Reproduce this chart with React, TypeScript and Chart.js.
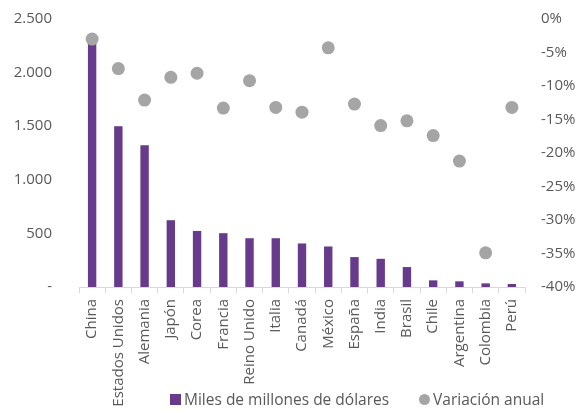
import React, { useEffect, useRef } from "react";
import { Chart, registerables } from "chart.js";

Chart.register(...registerables);

const categories = [
  "China", "Estados Unidos", "Alemania", "Japón", "Corea", "Francia", "Reino Unido",
  "Italia", "Canadá", "México", "España", "India", "Brasil", "Chile", "Argentina",
  "Colombia", "Perú",
];
const billionsUSD = [2270, 1500, 1323, 623, 523, 502, 455, 455, 406, 378, 279, 263, 186, 62, 53, 34, 28];
const annualChange = [-3.0, -7.4, -12.1, -8.7, -8.1, -13.3, -9.2, -13.2, -13.9, -4.3, -12.7, -15.9, -15.2, -17.4, -21.2, -34.9, -13.2];
const barLabel = "Miles de millones de dólares";
const pointLabel = "Variación anual";

const PURPLE = "#673A8B";
const GREY = "#A5A5A5";
const TEXT = "#595959";
const FONT = "'Open Sans', sans-serif";

export default function App() {
  const ref = useRef<HTMLCanvasElement | null>(null);

  useEffect(() => {
    if (!ref.current) return;
    const font = { family: "'Open Sans', sans-serif", size: 15 };
    const chart = new Chart(ref.current, {
      type: "bar",
      data: {
        labels: categories,
        datasets: [
          {
            type: "line",
            label: pointLabel,
            data: annualChange,
            yAxisID: "y1",
            showLine: false,
            pointRadius: 6.5,
            pointBackgroundColor: GREY,
            pointBorderColor: GREY,
            pointBorderWidth: 0,
            order: 0,
          },
          {
            type: "bar",
            label: barLabel,
            data: billionsUSD,
            yAxisID: "y",
            backgroundColor: PURPLE,
            barPercentage: 0.32,
            categoryPercentage: 1,
            order: 1,
          },
        ],
      },
      options: {
        animation: false,
        responsive: true,
        maintainAspectRatio: false,
        layout: { autoPadding: false, padding: { top: 19, left: 0, right: 0, bottom: 0 } },
        plugins: {
          legend: { display: false },
          tooltip: { enabled: false },
          title: { display: false },
        },
        scales: {
          x: {
            offset: true,
            grid: {
              offset: true,
              drawOnChartArea: false,
              drawTicks: true,
              tickLength: 6,
              color: "#D9D9D9",
            },
            border: { display: true, color: "#D9D9D9" },
            ticks: {
              color: TEXT,
              font,
              minRotation: 90,
              maxRotation: 90,
              autoSkip: false,
              padding: 6,
            },
            afterFit: (s: any) => {
              s.height = 125;
            },
          },
          y: {
            position: "left",
            min: 0,
            max: 2500,
            grid: { display: false, drawTicks: false },
            border: { display: false },
            ticks: {
              stepSize: 500,
              color: TEXT,
              font,
              padding: 27,
              callback: (v: any) => (Number(v) === 0 ? "-" : Number(v).toLocaleString("de-DE")),
            },
            afterFit: (s: any) => {
              s.width = 79;
              s.paddingTop = 0;
              s.paddingBottom = 0;
            },
          },
          y1: {
            position: "right",
            min: -40,
            max: 0,
            grid: { display: false, drawTicks: false },
            border: { display: false },
            ticks: {
              stepSize: 5,
              color: TEXT,
              font,
              padding: 16,
              callback: (v: any) => `${v}%`,
            },
            afterFit: (s: any) => {
              s.width = 54;
              s.paddingTop = 0;
              s.paddingBottom = 0;
            },
          },
        },
      },
    });
    return () => chart.destroy();
  }, []);

  return (
    <div style={{ position: "absolute", left: 0, top: 0, width: 579, height: 412, background: "#fff", overflow: "hidden" }}>
      <canvas ref={ref} />
      <div
        style={{
          position: "absolute",
          top: 389,
          left: 170,
          display: "flex",
          alignItems: "center",
          fontFamily: FONT,
          fontSize: 15.5,
          color: TEXT,
          lineHeight: "20px",
          whiteSpace: "nowrap",
        }}
      >
        <span style={{ display: "inline-block", width: 11, height: 11, background: PURPLE, marginRight: 3 }} />
        <span>{barLabel}</span>
        <span style={{ display: "inline-block", width: 11, height: 11, borderRadius: "50%", background: GREY, marginLeft: 30, marginRight: 3 }} />
        <span>{pointLabel}</span>
      </div>
    </div>
  );
}
